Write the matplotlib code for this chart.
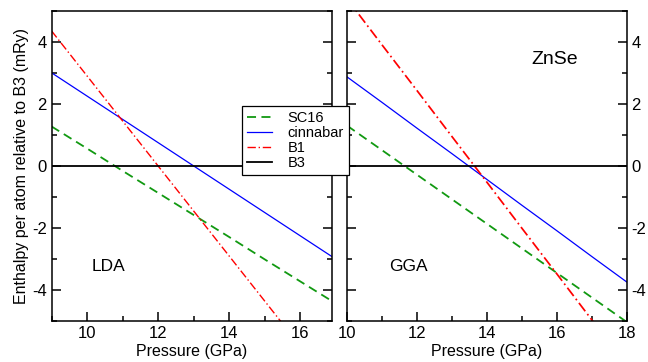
import numpy as np
import matplotlib
matplotlib.use('Agg')
import matplotlib.pyplot as plt
from matplotlib.ticker import MultipleLocator

plt.rcParams['font.family'] = ['Liberation Sans', 'DejaVu Sans']
plt.rcParams['axes.unicode_minus'] = False

# LDA panel (enthalpy relative to B3, mRy)
p_lda = np.array([9, 10, 11, 12, 13, 14, 15, 16, 17])
sc16_lda = np.array([1.27, 0.56, -0.16, -0.87, -1.58, -2.29, -3.01, -3.72, -4.43])
cinn_lda = np.array([3.0, 2.25, 1.5, 0.75, 0.0, -0.75, -1.5, -2.25, -3.0])
b1_lda = np.array([4.35, 2.9, 1.45, 0.0, -1.45, -2.9, -4.35, -5.8, -7.25])

# GGA panel
p_gga = np.array([10, 11, 12, 13, 14, 15, 16, 17, 18])
sc16_gga = np.array([1.29, 0.50, -0.29, -1.08, -1.87, -2.66, -3.45, -4.24, -5.03])
cinn_gga = np.array([2.86, 2.04, 1.21, 0.39, -0.44, -1.27, -2.09, -2.92, -3.74])
b1_gga = np.array([5.37, 3.89, 2.42, 0.94, -0.53, -2.01, -3.48, -4.96, -6.43])

fig = plt.figure(figsize=(6.48, 3.62), dpi=100)
ax1 = fig.add_axes([0.0795, 0.1133, 0.4328, 0.8571])
ax2 = fig.add_axes([0.536, 0.1133, 0.431, 0.8571])

def draw(ax, p, sc, ci, b1, b1w):
    l1, = ax.plot(p, sc, color='#119911', ls=(0, (5, 3)), lw=1.3, label='SC16')
    l2, = ax.plot(p, ci, color='blue', lw=0.9, label='cinnabar')
    l3, = ax.plot(p, b1, color='red', ls=(0, (6, 2, 1, 2)), lw=b1w, label='B1')
    l4 = ax.axhline(0, color='black', lw=1.3, label='B3')
    ax.set_ylim(-5, 5)
    ax.xaxis.set_major_locator(MultipleLocator(2))
    ax.xaxis.set_minor_locator(MultipleLocator(1))
    ax.yaxis.set_major_locator(MultipleLocator(2))
    ax.yaxis.set_minor_locator(MultipleLocator(1))
    ax.tick_params(which='both', direction='in', top=False, right=True, left=True, labelsize=12, width=1.1)
    ax.tick_params(which='major', length=6.5)
    ax.tick_params(which='minor', length=3.5)
    for s in ax.spines.values():
        s.set_linewidth(1.1)
    ax.set_xlabel('Pressure (GPa)', fontsize=11.5, labelpad=2)
    return [l1, l2, l3, l4]

handles = draw(ax1, p_lda, sc16_lda, cinn_lda, b1_lda, 1.0)
ax1.set_xlim(9, 16.9)
ax1.set_ylabel('Enthalpy per atom relative to B3 (mRy)', fontsize=11.5, labelpad=2)
ax1.text(10.14, -3.23, 'LDA', fontsize=12.5, va='center')

draw(ax2, p_gga, sc16_gga, cinn_gga, b1_gga, 1.25)
ax2.set_xlim(10, 18)
ax2.tick_params(axis='y', labelleft=False, labelright=True)
ax2.text(11.2, -3.26, 'GGA', fontsize=12.5, va='center')
ax2.text(15.26, 3.42, 'ZnSe', fontsize=14, va='center')

leg = fig.legend(handles=handles, loc='upper left', bbox_to_anchor=(0.373, 0.708),
                 borderaxespad=0, fontsize=10.5, fancybox=False, framealpha=1,
                 edgecolor='black', handlelength=1.7, handletextpad=1.1,
                 labelspacing=0.08, borderpad=0.35)
leg.get_frame().set_linewidth(0.9)

fig.savefig('out.png', dpi=100)
